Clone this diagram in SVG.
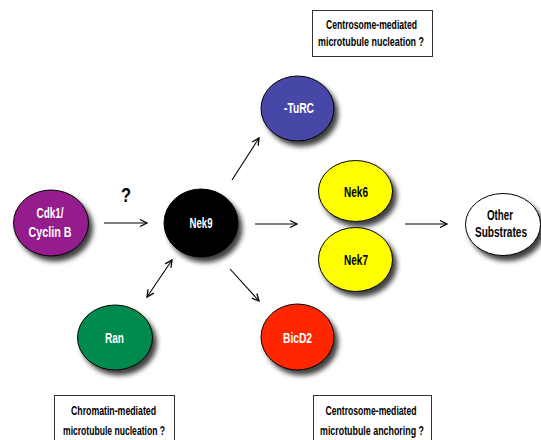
<svg xmlns="http://www.w3.org/2000/svg" width="541" height="440" viewBox="0 0 541 440">
<defs>
<filter id="sh" x="-30%" y="-30%" width="170%" height="170%">
<feDropShadow dx="4" dy="5" stdDeviation="2.5" flood-color="#000" flood-opacity="0.75"/>
</filter>
<marker id="ah" markerWidth="10" markerHeight="10" refX="8" refY="5" orient="auto" markerUnits="userSpaceOnUse">
<path d="M1,1.5 L8,5 L1,8.5" fill="none" stroke="#000" stroke-width="1.3"/>
</marker>
<marker id="as" markerWidth="10" markerHeight="10" refX="2" refY="5" orient="auto" markerUnits="userSpaceOnUse">
<path d="M9,1.5 L2,5 L9,8.5" fill="none" stroke="#000" stroke-width="1.3"/>
</marker>
</defs>
<style>
.n{stroke:#000;stroke-width:1;filter:url(#sh)}
.t{font-family:"Liberation Sans",Arial,sans-serif;font-weight:bold;font-size:15px;text-anchor:middle;fill:#fff}
.d{fill:#000}
.b{font-family:"Liberation Sans",Arial,sans-serif;font-weight:bold;font-size:12px;text-anchor:middle;fill:#000}
.bx{fill:#fff;stroke:#333;stroke-width:1}
.c{stroke:#000;stroke-width:1.1;fill:none}
</style>
<rect width="541" height="440" fill="#fff"/>
<g id="connectors">
<line class="c" x1="104" y1="223" x2="147" y2="223" marker-end="url(#ah)"/>
<line class="c" x1="255" y1="224" x2="297" y2="224" marker-end="url(#ah)"/>
<line class="c" x1="405" y1="224" x2="447" y2="224" marker-end="url(#ah)"/>
<line class="c" x1="232" y1="180" x2="259" y2="138" marker-end="url(#ah)"/>
<line class="c" x1="230" y1="269" x2="259" y2="301" marker-end="url(#ah)"/>
<line class="c" x1="147" y1="297" x2="172" y2="260" marker-start="url(#as)" marker-end="url(#ah)"/>
<text x="126" y="202" style="font-family:'Liberation Sans',Arial,sans-serif;font-weight:bold;font-size:20px;text-anchor:middle" textLength="10" lengthAdjust="spacingAndGlyphs">?</text>
</g>
<g id="cdk1">
<ellipse class="n" cx="51" cy="223" rx="37.5" ry="33" fill="#951F8C"/>
<text class="t" x="50" y="218" textLength="27" lengthAdjust="spacingAndGlyphs">Cdk1/</text>
<text class="t" x="50" y="237" textLength="43" lengthAdjust="spacingAndGlyphs">Cyclin B</text>
</g>
<g id="nek9">
<ellipse class="n" cx="201" cy="223" rx="37" ry="34" fill="#000"/>
<text class="t" x="201" y="228" textLength="23" lengthAdjust="spacingAndGlyphs">Nek9</text>
</g>
<g id="turc">
<ellipse class="n" cx="297.5" cy="108.5" rx="36.5" ry="32.5" fill="#4747A8"/>
<text class="t" x="299" y="113" textLength="30" lengthAdjust="spacingAndGlyphs">-TuRC</text>
</g>
<g id="nek6">
<ellipse class="n" cx="355.5" cy="191" rx="37" ry="30.5" fill="#FFFF00"/>
<text class="t d" x="356" y="197" textLength="24" lengthAdjust="spacingAndGlyphs">Nek6</text>
</g>
<g id="nek7">
<ellipse class="n" cx="355.5" cy="259.5" rx="37" ry="32" fill="#FFFF00"/>
<text class="t d" x="356" y="265" textLength="24" lengthAdjust="spacingAndGlyphs">Nek7</text>
</g>
<g id="other">
<ellipse class="n" cx="503" cy="224.5" rx="37.5" ry="31" fill="#fff"/>
<text class="t d" x="500" y="220" textLength="26" lengthAdjust="spacingAndGlyphs">Other</text>
<text class="t d" x="501" y="237" textLength="52" lengthAdjust="spacingAndGlyphs">Substrates</text>
</g>
<g id="ran">
<ellipse class="n" cx="115" cy="337.5" rx="37.5" ry="32.5" fill="#008A4E"/>
<text class="t" x="114.5" y="343" textLength="19" lengthAdjust="spacingAndGlyphs">Ran</text>
</g>
<g id="bicd2">
<ellipse class="n" cx="297.5" cy="337" rx="36.5" ry="33" fill="#FF2600"/>
<text class="t" x="297.5" y="343" textLength="29" lengthAdjust="spacingAndGlyphs">BicD2</text>
</g>
<g id="box-top">
<rect class="bx" x="312.5" y="10.5" width="120" height="46"/>
<text class="b" x="371.5" y="29" textLength="91" lengthAdjust="spacingAndGlyphs">Centrosome-mediated</text>
<text class="b" x="371" y="46" textLength="106" lengthAdjust="spacingAndGlyphs">microtubule nucleation ?</text>
</g>
<g id="box-chromatin">
<rect class="bx" x="54.5" y="395.5" width="120" height="60"/>
<text class="b" x="113.5" y="415" textLength="85" lengthAdjust="spacingAndGlyphs">Chromatin-mediated</text>
<text class="b" x="114" y="435" textLength="102" lengthAdjust="spacingAndGlyphs">microtubule nucleation ?</text>
</g>
<g id="box-anchoring">
<rect class="bx" x="313.5" y="395.5" width="118" height="60"/>
<text class="b" x="371" y="415" textLength="91" lengthAdjust="spacingAndGlyphs">Centrosome-mediated</text>
<text class="b" x="372" y="435" textLength="104" lengthAdjust="spacingAndGlyphs">microtubule anchoring ?</text>
</g>
</svg>
